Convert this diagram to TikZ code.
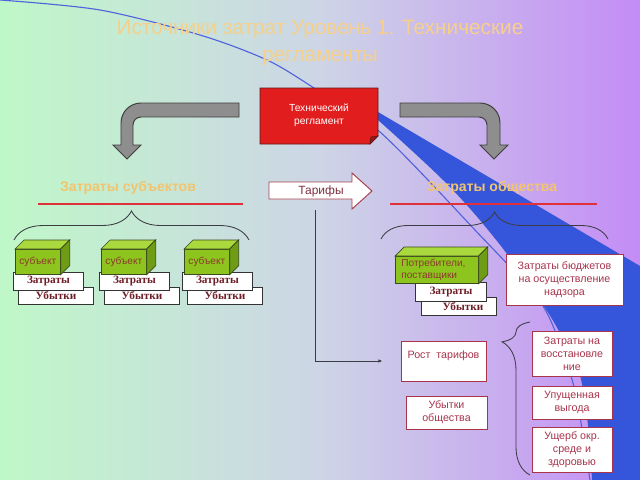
\documentclass[tikz,border=0pt]{standalone}
\usepackage{fontspec}
\setmainfont{Liberation Sans}
\newfontfamily\boxserif{Liberation Serif}
\usetikzlibrary{decorations.pathreplacing,arrows.meta}
\definecolor{bgLeft}{HTML}{BFF8C8}
\definecolor{bgMid}{HTML}{CDD5E6}
\definecolor{bgRight}{HTML}{C48CF6}
\definecolor{swooshBlue}{HTML}{3556DA}
\definecolor{swooshLine}{HTML}{5063DC}
\definecolor{titleOrange}{HTML}{F6D08A}
\definecolor{headOrange}{HTML}{F2C46E}
\definecolor{lineRed}{HTML}{E0303A}
\definecolor{braceGray}{HTML}{3C3C44}
\definecolor{arrowGray}{HTML}{8E8E8E}
\definecolor{arrowEdge}{HTML}{3E3E3E}
\definecolor{regRed}{HTML}{E21D1D}
\definecolor{regEdge}{HTML}{5C1A1A}
\definecolor{regFold}{HTML}{A01414}
\definecolor{tariffEdge}{HTML}{A8404E}
\definecolor{tariffText}{HTML}{7E3040}
\definecolor{cubeFront}{HTML}{8DC41E}
\definecolor{cubeTop}{HTML}{A9D93C}
\definecolor{cubeSide}{HTML}{6E9C14}
\definecolor{cubeEdge}{HTML}{3B4A1E}
\definecolor{subjText}{HTML}{8A3B2B}
\definecolor{costText}{HTML}{6E1E28}
\definecolor{noteRed}{HTML}{A8344C}
\begin{document}
\begin{tikzpicture}
[x=0.025cm,y=-0.025cm,
  headDecorate/.style={text=headOrange,font=\fontsize{10}{12}\selectfont\bfseries},%
  lineDecorate/.style={draw=lineRed,line width=1.2pt},%
  braceDecorate/.style 2 args={decorate,decoration={brace,amplitude=#1,aspect=#2},draw=braceGray,line width=0.6pt},%
  arrowDecorate/.style={fill=arrowGray,draw=arrowEdge,line width=0.7pt},%
  cubeDecorate/.style={draw=cubeEdge,fill=cubeFront,inner sep=1pt,text=subjText,line width=0.5pt,font=\fontsize{7.2}{8.6}\selectfont},%
  cubeTopDecorate/.style={draw=cubeEdge,fill=cubeTop,line width=0.5pt},%
  cubeSideDecorate/.style={draw=cubeEdge,fill=cubeSide,line width=0.5pt},%
  costDecorate/.style={draw=black!80,fill=white,inner sep=0pt,text=costText,line width=0.6pt,font=\boxserif\bfseries\fontsize{8}{9}\selectfont},%
  noteDecorate/.style={draw=noteRed,fill=white,text=noteRed,align=center,inner sep=0pt,line width=0.6pt,font=\fontsize{7.6}{9.3}\selectfont}]
\useasboundingbox (0,0) rectangle (640,480);
\clip (0,0) rectangle (640,480);
%% background and swoosh
\fill[left color=bgLeft,right color=bgRight,middle color=bgMid] (0,0) rectangle (640,480);
\fill[swooshBlue] (378,112) -- (640,266) -- (640,480) -- (592,480)
  -- plot[smooth,tension=0.6] coordinates {(592,480) (588,425) (579,372) (560,333) (539,299) (497,241) (447,184) (378,120)} -- cycle;
\draw[swooshLine,line width=0.8pt] plot[smooth] coordinates {(0,0) (100,10) (200,35) (267,60) (314,88) (380,132) (475,230) (541,303) (566,362) (577,400) (590,480)};
%% title
\node (title) at (320,43) [text=titleOrange,align=center,font=\fontsize{14.8}{18.5}\selectfont]
  {Источники затрат Уровень 1. Технические\\регламенты};
%% bent arrows
\filldraw[arrowDecorate] (239,103) -- (141,103) arc[start angle=90,end angle=180,radius=0.5cm]
  -- (121,145) -- (113,145) -- (127,159) -- (141,145) -- (133,145) -- (133,125)
  arc[start angle=180,end angle=90,radius=0.2cm] -- (239,117) -- cycle;
\filldraw[arrowDecorate] (400,103) -- (480,103) arc[start angle=90,end angle=0,radius=0.5cm]
  -- (500,145) -- (508,145) -- (494,159) -- (480,145) -- (487,145) -- (487,125)
  arc[start angle=0,end angle=90,radius=0.2cm] -- (400,117) -- cycle;
%% regulation sheet
\filldraw[fill=regRed,draw=regEdge,line width=0.7pt] (260,88) -- (378,88) -- (378,136) -- (370,144) -- (260,144) -- cycle;
\filldraw[fill=regFold,draw=regEdge,line width=0.5pt] (378,136) -- (370,144) -- (371,137) -- cycle;
\node (reglament) at (319,115) [text=white,align=center,font=\fontsize{7.3}{9.3}\selectfont] {Технический\\регламент};
%% headings
\node (subjHead) at (128,188) [headDecorate] {Затраты субъектов};
\node (societyHead) at (492,188) [headDecorate] {Затраты общества};
\draw[lineDecorate] (38,204) -- (243,204);
\draw[lineDecorate] (390,204) -- (597,204);
\coordinate (lbraceA) at (14,240);
\coordinate (lbraceB) at (249,240);
\coordinate (rbraceA) at (381,239);
\coordinate (rbraceB) at (608,239);
\draw[braceDecorate={0.725cm}{0.5}] (lbraceA) -- (lbraceB);
\draw[braceDecorate={0.675cm}{0.5}] (rbraceA) -- (rbraceB);
%% tariffs
\filldraw[fill=white,draw=tariffEdge,line width=0.7pt] (269,182) -- (352,182) -- (352,173) -- (372,191) -- (352,209) -- (352,199) -- (269,199) -- cycle;
\node (tarify) at (321,191) [text=tariffText,font=\fontsize{8.5}{10}\selectfont] {Тарифы};
%% subjects
\foreach \name/\x in {subjA/15, subjB/101, subjC/184}
{
  \node (\name-u) at (\x+3,287) [costDecorate,anchor=north west,minimum width=1.875cm,minimum height=0.425cm] {Убытки};
  \node (\name-z) at (\x-2,272) [costDecorate,anchor=north west,minimum width=1.75cm,minimum height=0.45cm] {Затраты};
  \node (\name) at (\x,249) [cubeDecorate,anchor=north west,minimum width=1.125cm,minimum height=0.625cm] {субъект};
  \filldraw[cubeTopDecorate] (\name.north west) -- ++(9,-9) -- ([shift={(9,-9)}]\name.north east) -- (\name.north east) -- cycle;
  \filldraw[cubeSideDecorate] (\name.north east) -- ++(9,-9) -- ([shift={(9,-9)}]\name.south east) -- (\name.south east) -- cycle;
}
%% consumers
\node (consumers-u) at (421,297) [costDecorate,anchor=north west,minimum width=1.875cm,minimum height=0.45cm] {\hspace{0.2cm}Убытки};
\node (consumers-z) at (415,282) [costDecorate,anchor=north west,minimum width=1.775cm,minimum height=0.475cm] {Затраты};
\node (consumers) at (395,256) [cubeDecorate,anchor=north west,minimum width=2.075cm,minimum height=0.675cm,
  align=left,inner xsep=0.15cm,text width=1.775cm] {Потребители,\\поставщики};
\filldraw[cubeTopDecorate] (consumers.north west) -- ++(9,-9) -- ([shift={(9,-9)}]consumers.north east) -- (consumers.north east) -- cycle;
\filldraw[cubeSideDecorate] (consumers.north east) -- ++(9,-9) -- ([shift={(9,-9)}]consumers.south east) -- (consumers.south east) -- cycle;
%% society boxes
\node (budget) at (564.5,279.5) [noteDecorate,minimum width=2.925cm,minimum height=1.275cm] {Затраты бюджетов\\на осуществление\\надзора};
\node (rost) at (443.5,361) [noteDecorate,minimum width=2.125cm,minimum height=1cm] {Рост~ тарифов\\~};
\node (lossSociety) at (446.5,412.5) [noteDecorate,minimum width=2.025cm,minimum height=0.825cm] {Убытки\\общества};
\node (restore) at (572,353.5) [noteDecorate,minimum width=2cm,minimum height=1.125cm] {Затраты на\\восстановле\\ние};
\node (lostProfit) at (572,402.5) [noteDecorate,minimum width=2cm,minimum height=0.825cm] {Упущенная\\выгода};
\node (damage) at (572,449.5) [noteDecorate,minimum width=2cm,minimum height=1.125cm] {Ущерб окр.\\среде и\\здоровью};
\coordinate (vbraceA) at (530,475);
\coordinate (vbraceB) at (530,322);
\draw[braceDecorate={0.7cm}{0.87}] (vbraceA) -- (vbraceB);
%% tariff line
\coordinate (tarifyFoot) at (315,210);
\draw[draw=braceGray,line width=0.6pt,-{Latex[length=3pt,width=2.5pt]}] (tarifyFoot) |- ([xshift=-0.45cm]rost.west);
\end{tikzpicture}
\end{document}
